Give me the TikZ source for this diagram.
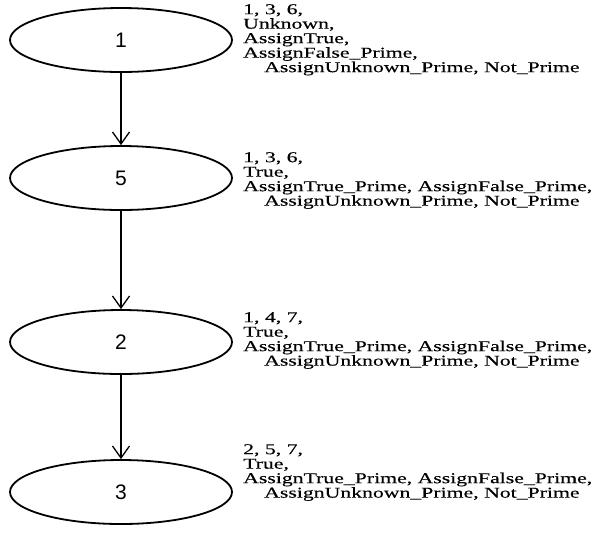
\documentclass[tikz,border=0pt]{standalone}
\usepackage{fontspec}
\setmainfont{Liberation Serif}
\newfontfamily\numfont{Liberation Sans}
\newfontfamily\lblfont[FakeStretch=1.45,FakeBold=0.25]{Liberation Serif}
\usetikzlibrary{arrows.meta,shapes.geometric}
\begin{document}
\begin{tikzpicture}[x=1pt,y=-1pt,
  state/.style={draw, line width=1.8pt, ellipse, minimum width=222pt, minimum height=64pt, inner sep=0pt,
    font=\numfont\fontsize{21}{21}\selectfont},
  info/.style={anchor=north west, align=left, inner sep=0pt,
    font=\lblfont\fontsize{15}{14.5}\selectfont},
  flow/.style={line width=1.3pt, -{Straight Barb[length=12pt,width=17pt,line width=1.3pt]}}]
\useasboundingbox (0,0) rectangle (607,550);
\node[state] (n1) at (121,40) {1};
\node[state] (n5) at (121,178) {5};
\node[state] (n2) at (121,342) {2};
\node[state] (n3) at (121,492) {3};
\draw[flow] (n1) -- (n5);
\draw[flow] (n5) -- (n2);
\draw[flow] (n2) -- (n3);
\node[info] (t1) at (243,4) {1, 3, 6,\\Unknown,\\AssignTrue,\\AssignFalse\_Prime,\\\hspace*{21pt}AssignUnknown\_Prime, Not\_Prime};
\node[info] (t5) at (243,152) {1, 3, 6,\\True,\\AssignTrue\_Prime, AssignFalse\_Prime,\\\hspace*{21pt}AssignUnknown\_Prime, Not\_Prime};
\node[info] (t2) at (243,312) {1, 4, 7,\\True,\\AssignTrue\_Prime, AssignFalse\_Prime,\\\hspace*{21pt}AssignUnknown\_Prime, Not\_Prime};
\node[info] (t3) at (243,444) {2, 5, 7,\\True,\\AssignTrue\_Prime, AssignFalse\_Prime,\\\hspace*{21pt}AssignUnknown\_Prime, Not\_Prime};
\end{tikzpicture}
\end{document}
